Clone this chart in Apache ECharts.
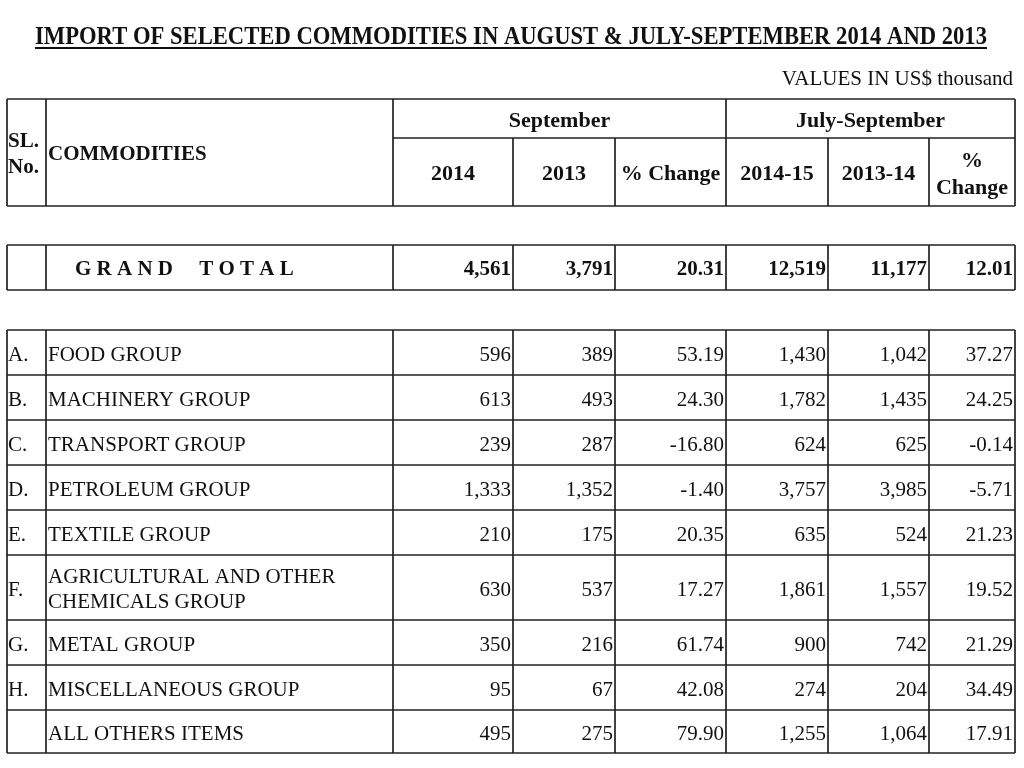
<!DOCTYPE html>
<html><head><meta charset="utf-8">
<script src="https://cdn.jsdelivr.net/npm/echarts@6/dist/echarts.min.js"></script>
<style>html,body{margin:0;padding:0;background:#fff}#c{width:1024px;height:768px}</style>
</head><body><div id="c"></div>
<script>
// ---------- data ----------
const title = 'IMPORT OF SELECTED COMMODITIES IN AUGUST & JULY-SEPTEMBER 2014 AND 2013';
const unitNote = 'VALUES IN US$ thousand';
const groupHeaders = ['September', 'July-September'];
const columnHeaders = ['2014', '2013', '% Change', '2014-15', '2013-14', '%\nChange'];
const slHeader = 'SL.\nNo.';
const commodityHeader = 'COMMODITIES';
const grandTotalLabel = 'G R A N D     T O T A L';
const grandTotal = [4561, 3791, 20.31, 12519, 11177, 12.01];
const slNo = ['A.', 'B.', 'C.', 'D.', 'E.', 'F.', 'G.', 'H.', ''];
const commodities = ['FOOD GROUP', 'MACHINERY GROUP', 'TRANSPORT GROUP', 'PETROLEUM GROUP', 'TEXTILE GROUP',
  'AGRICULTURAL AND OTHER\nCHEMICALS GROUP', 'METAL GROUP', 'MISCELLANEOUS GROUP', 'ALL OTHERS ITEMS'];
const sep2014 = [596, 613, 239, 1333, 210, 630, 350, 95, 495];
const sep2013 = [389, 493, 287, 1352, 175, 537, 216, 67, 275];
const sepChange = [53.19, 24.30, -16.80, -1.40, 20.35, 17.27, 61.74, 42.08, 79.90];
const jul2014 = [1430, 1782, 624, 3757, 635, 1861, 900, 274, 1255];
const jul2013 = [1042, 1435, 625, 3985, 524, 1557, 742, 204, 1064];
const julChange = [37.27, 24.25, -0.14, -5.71, 21.23, 19.52, 21.29, 34.49, 17.91];

// ---------- layout (page units) ----------
const colX = [7, 46, 393, 513, 615, 726, 828, 929, 1015];
const headY = [99, 138, 206];
const totalY = [245, 290];
const rowY = [330, 375, 420, 465, 510, 555, 620, 665, 710, 753];
const FONT = '"Liberation Serif","Times New Roman",serif';
const INK = '#111';
const LINE = '#222';
const LW = 1.7;
const DY = 2.5;     // baseline nudge for text
const REG = 21;     // regular body font size
const BLD = 22;     // bold header font size

const fmtInt = v => v.toLocaleString('en-US');
const fmtPct = v => v.toFixed(2);
const isPct = [false, false, true, false, false, true];

function measure(text, font) {
  const c = document.createElement('canvas').getContext('2d');
  c.font = font; return c.measureText(text).width;
}

function txt(p, text, size, bold, align, lineHeight) {
  const st = { x: p[0], y: p[1] + DY, text: text, fill: INK, align: align || 'left', verticalAlign: 'middle',
    font: (bold ? 'bold ' : '') + size + 'px ' + FONT };
  if (lineHeight) st.lineHeight = lineHeight;
  return { type: 'text', style: st };
}
function ln(a, b) {
  return { type: 'line', shape: { x1: a[0], y1: a[1], x2: b[0], y2: b[1] }, style: { stroke: LINE, lineWidth: LW } };
}

function renderHeader(params, api) {
  const P = (x, y) => api.coord([x, y]);
  const ch = [];
  // title (condensed to fit the underline width)
  const tFont = 'bold 24px ' + FONT;
  const sx = 952 / measure(title, tFont);
  const tc = P(511, 37);
  ch.push({ type: 'text', x: tc[0], y: tc[1], scaleX: sx, scaleY: 1.05,
    style: { x: 0, y: 0, text: title, font: tFont, fill: INK, align: 'center', verticalAlign: 'middle' } });
  const u1 = P(35, 48), u2 = P(987, 48);
  ch.push({ type: 'line', shape: { x1: u1[0], y1: u1[1], x2: u2[0], y2: u2[1] }, style: { stroke: INK, lineWidth: 2 } });
  ch.push(txt(P(1013, 77), unitNote, REG, false, 'right'));
  // header box
  const L = colX[0], R = colX[8];
  ch.push(ln(P(L, headY[0]), P(R, headY[0])));
  ch.push(ln(P(L, headY[2]), P(R, headY[2])));
  ch.push(ln(P(colX[2], headY[1]), P(R, headY[1])));
  [0, 1, 2, 5, 8].forEach(i => ch.push(ln(P(colX[i], headY[0]), P(colX[i], headY[2]))));
  [3, 4, 6, 7].forEach(i => ch.push(ln(P(colX[i], headY[1]), P(colX[i], headY[2]))));
  ch.push(txt(P(colX[0] + 1, 152), slHeader, 21, true, 'left', 26));
  ch.push(txt(P(colX[1] + 2, 152), commodityHeader, 21, true, 'left'));
  ch.push(txt(P((colX[2] + colX[5]) / 2, (headY[0] + headY[1]) / 2), groupHeaders[0], BLD, true, 'center'));
  ch.push(txt(P((colX[5] + colX[8]) / 2, (headY[0] + headY[1]) / 2), groupHeaders[1], BLD, true, 'center'));
  for (let c = 0; c < 6; c++) {
    ch.push(txt(P((colX[c + 2] + colX[c + 3]) / 2, (headY[1] + headY[2]) / 2), columnHeaders[c], BLD, true, 'center', 27));
  }
  return { type: 'group', children: ch };
}

function renderTotal(params, api) {
  const P = (x, y) => api.coord([x, y]);
  const ch = [];
  const L = colX[0], R = colX[8];
  ch.push(ln(P(L, totalY[0]), P(R, totalY[0])));
  ch.push(ln(P(L, totalY[1]), P(R, totalY[1])));
  colX.forEach(x => ch.push(ln(P(x, totalY[0]), P(x, totalY[1]))));
  const cy = (totalY[0] + totalY[1]) / 2;
  ch.push(txt(P(75, cy), grandTotalLabel, 21, true, 'left'));
  for (let c = 0; c < 6; c++) {
    const v = api.value(c + 1);
    ch.push(txt(P(colX[c + 3] - 2, cy), isPct[c] ? fmtPct(v) : fmtInt(v), 21, true, 'right'));
  }
  return { type: 'group', children: ch };
}

function renderRow(params, api) {
  const P = (x, y) => api.coord([x, y]);
  const i = api.value(0);
  const top = rowY[i], bot = rowY[i + 1];
  const ch = [];
  if (i === 0) ch.push(ln(P(colX[0], top), P(colX[8], top)));
  ch.push(ln(P(colX[0], bot), P(colX[8], bot)));
  colX.forEach(x => ch.push(ln(P(x, top), P(x, bot))));
  const cy = (top + bot) / 2;
  ch.push(txt(P(colX[0] + 1, cy), slNo[i], REG, false, 'left'));
  ch.push(txt(P(colX[1] + 2, cy), commodities[i], REG, false, 'left', 25));
  for (let c = 0; c < 6; c++) {
    const v = api.value(c + 1);
    ch.push(txt(P(colX[c + 3] - 2, cy), isPct[c] ? fmtPct(v) : fmtInt(v), REG, false, 'right'));
  }
  return { type: 'group', children: ch };
}

const rowData = commodities.map((c, i) => [i, sep2014[i], sep2013[i], sepChange[i], jul2014[i], jul2013[i], julChange[i]]);

const chart = echarts.init(document.getElementById('c'), null, { renderer: 'canvas' });
chart.setOption({
  backgroundColor: '#fff',
  animation: false,
  grid: { left: 0, right: 0, top: 0, bottom: 0 },
  xAxis: { type: 'value', min: 0, max: 1024, show: false },
  yAxis: { type: 'value', min: 0, max: 768, inverse: true, show: false },
  series: [
    { type: 'custom', name: 'header', data: [[0]], renderItem: renderHeader, clip: false, silent: true },
    { type: 'custom', name: 'grandTotal', data: [[0].concat(grandTotal)], renderItem: renderTotal, clip: false, silent: true },
    { type: 'custom', name: 'commodities', data: rowData, renderItem: renderRow, clip: false, silent: true }
  ]
});
</script>
</body></html>
